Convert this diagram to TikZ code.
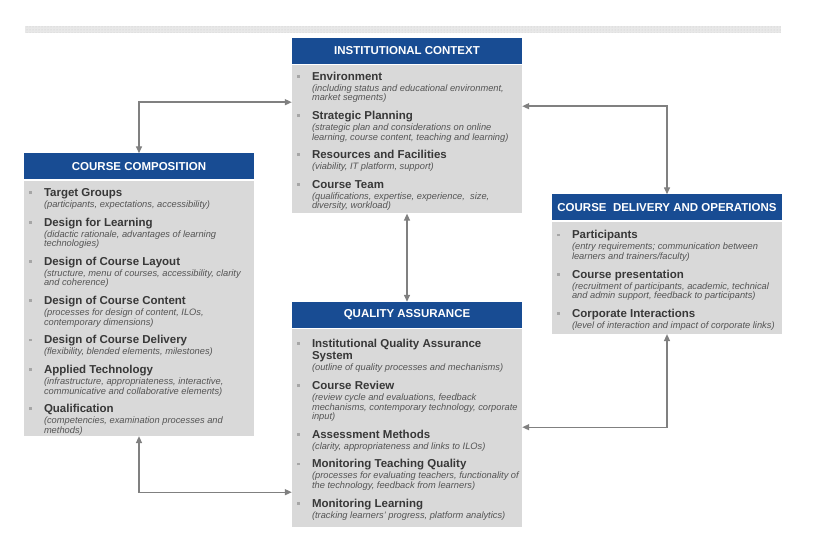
\documentclass[tikz,border=0pt]{standalone}
\usepackage{fontspec}
\setmainfont{Liberation Sans}
\usepackage{xcolor}
\usepackage{tikz}
\usetikzlibrary{positioning,arrows.meta,patterns}

\definecolor{headblue}{RGB}{24,76,147}
\definecolor{bodygrey}{RGB}{217,217,217}
\definecolor{titlegrey}{RGB}{56,56,56}
\definecolor{descgrey}{RGB}{84,84,84}
\definecolor{bulletgrey}{RGB}{166,166,166}
\definecolor{linkgrey}{RGB}{128,128,128}

\newcommand{\bulletmark}{\textcolor{bulletgrey}{\rule[2.5pt]{2.8pt}{2.8pt}}}
\newcommand{\listitem}[2]{%
  \vskip6.2pt
  {\noindent\fontsize{11.5}{12.5}\selectfont\bfseries\color{titlegrey}\llap{\bulletmark\hspace{12.5pt}}#1\par}%
  \vskip1.5pt
  {\noindent\fontsize{9.3}{9.5}\selectfont\itshape\color{descgrey}#2\par}}
\newcommand{\itemlist}[3]{\parbox[c][#1][t]{230pt}{\leftskip=20pt\rightskip=-30pt plus 1fil\vskip#2\relax#3}}

\begin{document}
\begin{tikzpicture}[x=1pt, y=1pt,
    headbox/.style={rectangle, fill=headblue, text=white, minimum width=230pt, minimum height=26pt, inner sep=0pt, font=\fontsize{11.5}{13}\selectfont\bfseries},
    bodybox/.style={rectangle, fill=bodygrey, inner sep=0pt, below=1pt of #1},
    link/.style={{Triangle[length=7pt,width=6pt]}-{Triangle[length=7pt,width=6pt]}, draw=linkgrey, line width=1.4pt}]
    \useasboundingbox (0,0) rectangle (814,552);

    % Top bar
    \fill[gray!18] (25,519) rectangle (781,526);
    \fill[pattern=dots, pattern color=gray!45] (25,519) rectangle (781,526);

    % Institutional context
    \node[headbox] (ichead) at (407,501) {INSTITUTIONAL CONTEXT};
    \node[bodybox=ichead] (icbody) {\itemlist{148pt}{0.4pt}{%
        \listitem{Environment}{(including status and educational environment,\\market segments)}%
        \listitem{Strategic Planning}{(strategic plan and considerations on online\\learning, course content, teaching and learning)}%
        \listitem{Resources and Facilities}{(viability, IT platform, support)}%
        \listitem{Course Team}{(qualifications, expertise, experience,\ \ size,\\diversity, workload)}}};

    % Course composition
    \node[headbox] (cchead) at (139,385.5) {COURSE COMPOSITION};
    \node[bodybox=cchead] (ccbody) {\itemlist{255pt}{1.4pt}{%
        \listitem{Target Groups}{(participants, expectations, accessibility)}%
        \listitem{Design for Learning}{(didactic rationale, advantages of learning\\technologies)}%
        \listitem{Design of Course Layout}{(structure, menu of courses, accessibility, clarity\\and coherence)}%
        \listitem{Design of Course Content}{(processes for design of content, ILOs,\\contemporary dimensions)}%
        \listitem{Design of Course Delivery}{(flexibility, blended elements, milestones)}%
        \listitem{Applied Technology}{(infrastructure, appropriateness, interactive,\\communicative and collaborative elements)}%
        \listitem{Qualification}{(competencies, examination processes and\\methods)}}};

    % Quality assurance
    \node[headbox] (qahead) at (407,237) {QUALITY ASSURANCE};
    \node[bodybox=qahead] (qabody) {\itemlist{198pt}{3.4pt}{%
        \listitem{Institutional Quality Assurance\\System}{(outline of quality processes and mechanisms)}%
        \listitem{Course Review}{(review cycle and evaluations, feedback\\mechanisms, contemporary technology, corporate\\input)}%
        \listitem{Assessment Methods}{(clarity, appropriateness and links to ILOs)}%
        \listitem{Monitoring Teaching Quality}{(processes for evaluating teachers, functionality of\\the technology, feedback from learners)}%
        \listitem{Monitoring Learning}{(tracking learners’ progress, platform analytics)}}};

    % Course delivery and operations
    \node[headbox] (cdohead) at (667,344.5) {COURSE\ \ DELIVERY AND OPERATIONS};
    \node[bodybox=cdohead] (cdobody) {\itemlist{112pt}{2.4pt}{%
        \listitem{Participants}{(entry requirements; communication between\\learners and trainers/faculty)}%
        \listitem{Course presentation}{(recruitment of participants, academic, technical\\and admin support, feedback to participants)}%
        \listitem{Corporate Interactions}{(level of interaction and impact of corporate links)}}};

    % Arrows
    \draw[link] (cchead.north) |- ([yshift=-37pt]icbody.north west);
    \draw[link] (cdohead.north) |- ([yshift=-41pt]icbody.north east);
    \draw[link] (icbody.south) -- (qahead.north);
    \draw[link] (cdobody.south) |- ([yshift=-98pt]qabody.north east);
    \draw[link] (ccbody.south) |- ([yshift=-163pt]qabody.north west);
\end{tikzpicture}
\end{document}
